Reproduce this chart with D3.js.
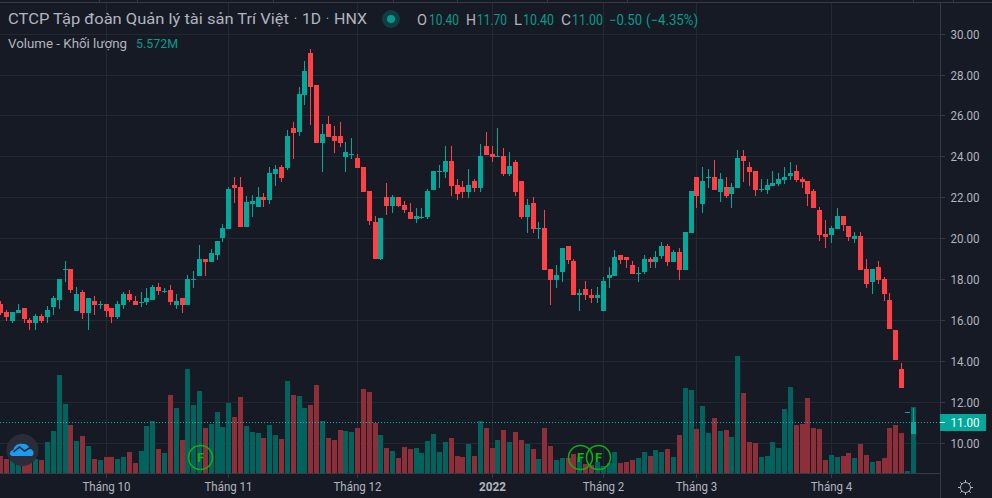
<!DOCTYPE html>
<html><head><meta charset="utf-8">
<script src="https://cdnjs.cloudflare.com/ajax/libs/d3/7.8.5/d3.min.js"></script>
<style>html,body{margin:0;padding:0;background:#161a25;overflow:hidden}svg{display:block}text{font-family:Roboto,sans-serif}</style>
</head><body><svg id="c" width="992" height="498"></svg>
<script>
const openP=[16.8,16.4,15.95,16.35,16.6,16,15.85,16.2,16.15,16.65,17,18.5,18.5,16.45,17.35,16.35,16.95,16.8,16.8,16.6,16.15,16.75,17.25,16.95,16.9,16.9,17,17.6,17.4,17.45,16.75,17.05,16.75,18,18.15,19,18.85,19.2,20,20.45,22.6,22.5,20.55,21.65,21.5,22,21.85,23.15,23.5,23.45,25.4,25.2,27,29.05,27.5,24.65,25.6,25,25,23.95,24.1,23.9,23.5,22.3,20.8,19,22,21.55,22,21.6,21.3,20.95,21.05,21.05,22.35,23.3,23.25,23.75,22.6,22.5,22.25,22.8,22.45,24.5,24.1,24,24,23.15,23.7,22.8,21.05,21.7,20.5,20.5,18.5,17.95,18.35,19.6,18.9,17.2,17.5,17.2,17.05,16.45,18.05,18.15,19.2,19.1,18.7,18.3,18.35,19,18.85,19.15,19.6,18.85,19.3,18.45,20.25,23,21.65,23,23,22.25,22.5,22.15,22.45,24,23.5,23.3,22.4,22.35,22.55,22.65,22.85,23.05,23.3,22.9,22.8,22.3,21.4,20.2,20.15,20.45,21.1,20.6,19.95,20.1,18.5,17.85,18.6,18,17,15.5,13.6,11.5,10.4];
const highP=[16.95,16.5,16.4,16.8,16.6,16.1,16.3,16.3,16.7,17.15,18,18.9,18.5,17.6,17.45,17.05,17.15,16.95,16.8,16.6,16.95,17.35,17.45,17.15,17.35,17.55,17.7,17.8,17.55,17.7,17.25,17.05,18.2,18.4,19.65,19,19.45,19.85,20.7,22.5,23,23,22.05,22.1,22.5,22.2,23.5,23.6,23.6,25.3,25.7,27.4,28.65,29.25,27.5,25.6,25.95,25.5,25.7,24.7,24.9,24.1,23.5,22.3,21.1,21,22.7,22.1,22,21.8,21.7,21.45,21.45,22.4,23.3,23.6,24.5,24.5,22.9,22.8,23.4,22.9,24.6,25.2,24.5,25.4,24.4,24.2,23.8,22.8,21.9,22,20.8,21.4,18.5,18.7,19.5,19.6,19,17.5,17.9,17.5,17.6,18.1,18.6,19.4,19.2,19.1,18.9,18.6,19.2,19.1,19.35,19.8,19.7,19.4,19.5,20.3,22.3,23,23.5,23.4,23.8,23.2,23,22.7,24.3,24.3,23.7,23.3,22.9,22.9,23.3,23.2,23.5,23.7,23.6,23,22.8,22.4,21.5,20.9,20.6,21.45,21.1,20.6,20.3,20.3,19,18.5,18.9,18.1,17.3,15.5,13.9,11.5,11.7];
const lowP=[16.25,15.95,15.85,16.35,15.85,15.5,15.5,15.85,15.85,16.25,16.55,17.85,17.3,16.45,16.05,15.5,16.25,16.55,16.15,15.85,16.05,16.55,16.9,16.75,16.65,16.75,17,17.2,17.3,16.75,16.55,16.35,16.75,17.55,18.15,18.15,18.85,18.95,19.8,20.45,21.7,20.55,20.55,21.05,21.5,21.5,21.65,22.55,22.75,23.35,23.85,25,26.5,25.55,24.65,23.25,24.95,24.15,24.45,23.25,23.85,23.45,22.25,20.65,19,18.95,21.15,21.25,21.5,21.25,20.95,20.75,20.95,20.95,22.35,22.45,22.95,22.05,21.85,21.95,21.95,22.25,22.25,24.05,23.7,23.95,23.05,23.05,22.05,20.95,20.25,20.25,19.95,18.45,16.75,17.55,17.85,18.75,17.2,16.45,17,16.85,16.85,16.45,17.55,18.15,18.75,18.55,18.25,17.85,18.25,18.55,18.55,19,18.65,18.85,17.95,18.45,20.25,21.45,21.25,22.45,22.35,21.75,21.95,21.45,22.45,22.75,22.55,22.05,22.25,22.15,22.55,22.55,22.65,22.85,22.75,22.45,21.55,21.45,19.85,19.5,19.75,20.45,20.35,19.85,19.75,18.45,17.55,17.25,17.75,16.95,15.55,14.05,12.65,11.5,10.4];
const closeP=[16.35,16.15,16.4,16.5,16.05,15.85,16.2,15.95,16.5,17.05,18,18.5,17.45,17.25,16.35,17.05,16.75,16.8,16.45,16.15,16.8,17.25,17,16.75,16.9,17.05,17.6,17.4,17.4,16.9,16.95,16.75,18,18,19,18.85,19.25,19.85,20.5,22.4,22.45,20.55,21.75,21.8,22,21.85,23.2,23.4,22.95,25,25.15,27.05,28.15,27.4,24.65,25.1,24.95,24.75,24.65,24.2,24.1,23.45,22.25,20.85,19,21,21.55,22,21.55,21.4,20.95,21.1,21.05,22.3,23.3,23.3,23.75,22.55,22.15,22.25,22.6,22.45,24,24.05,23.95,24,23.15,23.55,22.25,21.05,21.6,20.45,20.5,18.45,17.95,18.2,19.5,18.95,17.2,17.3,17.2,17.05,17.2,17.9,18.2,19.1,18.95,18.95,18.25,18.3,19,18.85,19.1,19.6,18.85,19.3,18.45,20.3,22.3,22.05,22.8,23,22.35,22.9,22.05,22.5,23.9,23.75,23.25,22.35,22.4,22.6,22.7,22.9,23,23.2,22.85,22.75,22.15,21.45,20.15,20.05,20.5,21.1,20.65,20.05,20.1,18.45,17.75,18.5,17.95,17.25,15.55,14.05,12.65,11.5,11];
const volumeM=[1.46,1.2,1.26,.84,.98,.84,1.2,1.12,2.63,3.56,8.26,5.82,4.06,2.72,3.14,2.3,1.2,1.12,1.37,1.37,1.2,1.37,1.79,.87,1.88,3.98,4.4,2.04,1.71,6.58,5.49,2.8,8.76,5.74,6.92,3.81,4.14,5.15,3.89,5.91,4.73,6.41,3.98,3.47,3.39,2.97,4.06,3.22,2.88,7.76,6.58,6.5,5.49,5.74,7.42,4.4,2.97,2.8,3.64,3.56,3.47,3.81,7.08,6.83,4.23,3.22,2.13,1.88,1.29,2.21,2.04,2.13,1.71,2.72,3.3,1.79,2.63,2.97,1.46,1.37,2.46,1.46,4.4,3.81,2.13,2.8,3.64,2.63,3.47,2.8,2.46,2.04,1.2,3.81,2.3,1.12,1.29,1.29,1.62,1.4,.78,.7,.95,.62,.84,1.79,.87,.95,1.12,1.29,1.79,1.46,1.96,1.79,2.04,1.37,3.22,7.17,7,3.72,5.66,3.39,4.65,3.56,3.64,3.05,9.86,6.75,2.63,2.55,1.37,1.46,2.63,2.13,5.4,7.25,4.06,4.14,6.33,3.81,3.72,1.12,1.54,1.37,1.46,1.71,1.29,2.46,1.54,.95,1.04,1.29,3.81,4.06,3.39,.17,5.572];
const timeTickIndex=[18,39,61,84,103,119,142];
const timeTickLabels=["Tháng 10","Tháng 11","Tháng 12","2022","Tháng 2","Tháng 3","Tháng 4"];
const priceTicks=[30,28,26,24,22,20,18,16,14,12,10];
const earningsIndex=[34,99,102];
const lastPrice=11;

const BG="#161a25",GRID="#252832",AXIS="#363a45",UP="#02a99a",DOWN="#ff4045",VUP="#00635e",VDOWN="#8d2f38",TXT="#b2b5be",TEAL="#089b8d";
const svg=d3.select("#c");
const x=d3.scaleLinear().domain([0,156]).range([0.7,913.3]);
const y=d3.scaleLinear().domain([10,30]).range([443.15,34.15]);
const v=d3.scaleLinear().domain([0,10]).range([473.3,354.3]);
const px=i=>Math.floor(x(i));
const row=p=>Math.floor(y(p));
const idx=d3.range(openP.length);
svg.append("rect").attr("width",992).attr("height",498).attr("fill",BG);

// grid
svg.append("g").selectAll("line").data(priceTicks).join("line")
 .attr("x1",0).attr("x2",940).attr("y1",d=>row(d)+.5).attr("y2",d=>row(d)+.5).attr("stroke",GRID);
svg.append("g").selectAll("line").data(timeTickIndex).join("line")
 .attr("x1",d=>px(d)+.5).attr("x2",d=>px(d)+.5).attr("y1",3).attr("y2",473).attr("stroke",GRID);

// volume
svg.append("g").selectAll("rect").data(idx).join("rect")
 .attr("x",i=>px(i)-2).attr("width",5)
 .attr("y",i=>Math.round(v(volumeM[i]))).attr("height",i=>473-Math.round(v(volumeM[i])))
 .attr("fill",i=>closeP[i]>=openP[i]?VUP:VDOWN);

// last price line
svg.append("line").attr("x1",0).attr("x2",940).attr("y1",row(lastPrice)+.5).attr("y2",row(lastPrice)+.5)
 .attr("stroke","#0bb5a6").attr("stroke-dasharray","1 2");

// candles
const candles=svg.append("g").selectAll("g").data(idx).join("g")
 .attr("fill",i=>closeP[i]>=openP[i]?UP:DOWN);
candles.append("rect").attr("x",i=>px(i)).attr("width",1)
 .attr("y",i=>row(highP[i])).attr("height",i=>Math.max(1,row(lowP[i])-row(highP[i])));
candles.append("rect").attr("x",i=>px(i)-2).attr("width",5)
 .attr("y",i=>row(Math.max(openP[i],closeP[i])))
 .attr("height",i=>Math.max(1,row(Math.min(openP[i],closeP[i]))-row(Math.max(openP[i],closeP[i]))));

// axis frame
svg.append("line").attr("x1",0).attr("x2",992).attr("y1",2.5).attr("y2",2.5).attr("stroke",AXIS);
svg.append("g").selectAll("line").data([99,137,273,393,457,547,627,913,953]).join("line")
 .attr("x1",d=>d+.5).attr("x2",d=>d+.5).attr("y1",0).attr("y2",2).attr("stroke",AXIS);
svg.append("line").attr("x1",0).attr("x2",940).attr("y1",473.5).attr("y2",473.5).attr("stroke",AXIS);
svg.append("line").attr("x1",940.5).attr("x2",940.5).attr("y1",3).attr("y2",498).attr("stroke",AXIS);

// price axis
svg.append("g").selectAll("line").data(priceTicks).join("line")
 .attr("x1",941).attr("x2",945).attr("y1",d=>row(d)+.5).attr("y2",d=>row(d)+.5).attr("stroke",AXIS);
function label(sel,str,X,Y,w,o={}){
 return sel.append("text").attr("x",X).attr("y",Y).attr("font-size",o.size||12).attr("fill",o.fill||TXT)
  .attr("font-weight",o.weight||400).attr("text-anchor",o.anchor||"start")
  .attr("textLength",w).attr("lengthAdjust","spacingAndGlyphs").text(str);
}
priceTicks.forEach(d=>label(svg,d3.format(".2f")(d),950.5,row(d)+4.5,29,{size:13}));
svg.append("rect").attr("x",940).attr("y",414).attr("width",46).attr("height",17).attr("fill",UP);
svg.append("line").attr("x1",940).attr("x2",945).attr("y1",422.5).attr("y2",422.5).attr("stroke","#fff");
label(svg,d3.format(".2f")(lastPrice),950.5,427,29,{size:13,fill:"#fff"});

// time axis
svg.append("g").selectAll("line").data(timeTickIndex).join("line")
 .attr("x1",d=>px(d)+.5).attr("x2",d=>px(d)+.5).attr("y1",474).attr("y2",478).attr("stroke",AXIS);
timeTickIndex.forEach((d,k)=>{
 const s=timeTickLabels[k], bold=s==="2022";
 const w=bold?27:s.length===8?48:41.5;
 label(svg,s,px(d)+.5-w/2,490.5,w,{size:13,weight:bold?700:400});
});

// legend
label(svg,"CTCP Tập đoàn Quản lý tài sản Trí Việt",8,24,281,{size:15});
label(svg,"·",294,24,3,{size:15});
label(svg,"1D",302,24,19,{size:15});
label(svg,"·",326,24,3,{size:15});
label(svg,"HNX",334,24,33,{size:15});
svg.append("circle").attr("cx",391).attr("cy",19).attr("r",9).attr("fill","#0f3d42");
svg.append("circle").attr("cx",391).attr("cy",19).attr("r",4).attr("fill","#069a8b");
[["O",417,10],["H",466,10],["L",514,8],["C",561,10]].forEach(a=>label(svg,a[0],a[1],25,a[2],{size:14}));
[["10.40",429,30],["11.70",477,30],["10.40",523,31],["11.00",572,31],["−0.50",609,33],["(−4.35%)",646,52]].forEach(a=>label(svg,a[0],a[1],25,a[2],{size:14,fill:TEAL}));
label(svg,"Volume - Khối lượng",8,48,119,{size:13});
label(svg,"5.572M",136,48,42,{size:13,fill:TEAL});

// earnings markers
const marks=svg.append("g").selectAll("g").data(earningsIndex).join("g")
 .attr("transform",d=>`translate(${px(d)+1.5},457.5)`);
marks.append("circle").attr("r",12).attr("fill","none").attr("stroke","#0fb30f").attr("stroke-width",1.5);
marks.append("text").attr("text-anchor","middle").attr("y",4.5).attr("font-size",13).attr("font-weight",700).attr("fill","#0fb30f").text("F");

// logo
const logo=svg.append("g").attr("transform","translate(22.5,450)");
logo.append("circle").attr("r",16).attr("fill","#2a2d38");
logo.append("path").attr("d","M-10,6 C-14,6 -13,0 -9,0 C-9,-4 -4,-7 0,-6 C4,-7 7,-3 7,-1 C12,-1 12,6 9,6 Z").attr("fill","#1d9bf0");
logo.append("path").attr("d","M-9,2 L-3,-3 L2,1 L7,-2").attr("fill","none").attr("stroke","#1c2430").attr("stroke-width",1.5);

// settings icon
const gear=svg.append("g").attr("transform","translate(965.5,487.5)").attr("stroke",TXT).attr("fill","none");
gear.append("circle").attr("r",5);
gear.selectAll("line").data(d3.range(8)).join("line")
 .attr("x1",d=>5*Math.cos(d*Math.PI/4)).attr("y1",d=>5*Math.sin(d*Math.PI/4))
 .attr("x2",d=>7.5*Math.cos(d*Math.PI/4)).attr("y2",d=>7.5*Math.sin(d*Math.PI/4));
</script></body></html>
